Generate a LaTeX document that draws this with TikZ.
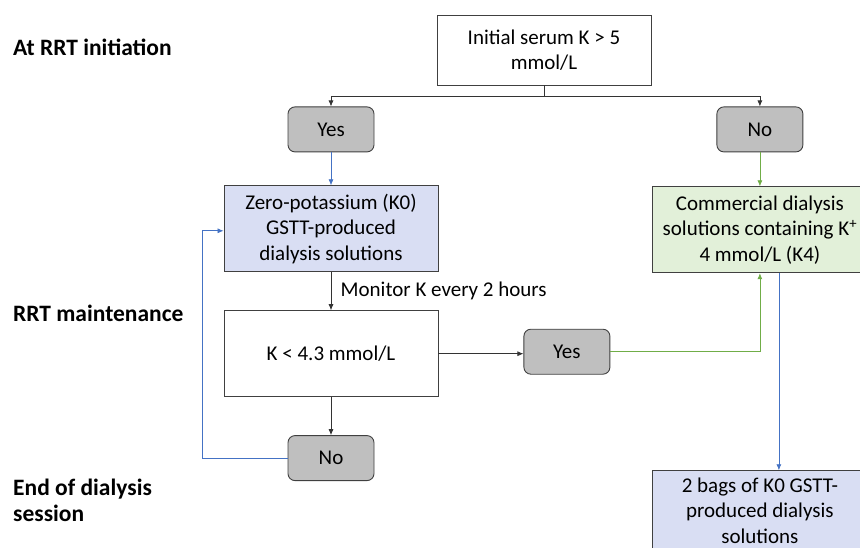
\documentclass[tikz,border=0pt]{standalone}
\usepackage{fontspec}
\setmainfont{Carlito}
\usetikzlibrary{arrows.meta, positioning}
\definecolor{boxline}{HTML}{404040}
\definecolor{answerfill}{HTML}{BFBFBF}
\definecolor{kzerofill}{HTML}{D9DEF3}
\definecolor{kfourfill}{HTML}{E2F0D9}
\definecolor{blueline}{HTML}{4472C4}
\definecolor{greenline}{HTML}{70AD47}

\begin{document}
\begin{tikzpicture}[x=1pt, y=1pt,
        >={Latex[length=6pt,width=5pt]},
        step_box/.style = {
            rectangle,
            draw=boxline,
            line width=0.9pt,
            align = center,
            inner sep=2pt,
            font = \fontsize{21}{25.5}\selectfont,
            minimum width=214pt,
            minimum height=86pt
        },
        answer/.style = {
            rectangle,
            draw=boxline,
            fill=answerfill,
            line width=0.9pt,
            rounded corners=7pt,
            font = \fontsize{21}{25.5}\selectfont,
            minimum width=86pt,
            minimum height=45pt
        },
        phase/.style = {
            anchor=west,
            align=left,
            inner sep=0pt,
            font = \bfseries\fontsize{23.5}{26}\selectfont
        },
        link/.style = {->, line width=0.7pt, draw=black!80}
    ]
    \useasboundingbox (0,0) rectangle (860,-548);
    \clip (0,0) rectangle (860,-548);

    % phase labels on the left
    \node (initiation) [phase] at (13,-47) {At RRT initiation};
    \node (maintenance) [phase] at (13,-313) {RRT maintenance};
    \node (end_session) [phase] at (13,-500) {End of dialysis\\session};

    \node (initial_k) [step_box, minimum height=70pt] at (544,-50)
        {Initial serum K > 5\\mmol/L};
    \node (yes_start) [answer, below=21pt of initial_k, xshift=-213pt] {Yes};
    \node (no_start) [answer, right=342pt of yes_start] {No};

    \node (k0_solution) [step_box, fill=kzerofill, below=33pt of yes_start]
        {Zero-potassium (K0)\\GSTT-produced\\dialysis solutions};
    \node (k4_solution) [step_box, fill=kfourfill, below=34pt of no_start]
        {Commercial dialysis\\solutions containing K\textsuperscript{+}\\4 mmol/L (K4)};

    \node (k_check) [step_box, below=38pt of k0_solution]
        {K < 4.3 mmol/L};
    \node (yes_check) [answer, right=85pt of k_check, yshift=2pt] {Yes};
    \node (no_check) [answer, below=38pt of k_check] {No};

    \node (k0_bags) [step_box, fill=kzerofill, minimum height=80pt, below=197pt of k4_solution]
        {2 bags of K0 GSTT-\\produced dialysis\\solutions};

    \draw[link] (initial_k.south) -- ++(0,-11) -| (yes_start.north);
    \draw[link] (initial_k.south) -- ++(0,-11) -| (no_start.north);
    \draw[link, draw=blueline] (yes_start) -- (k0_solution);
    \draw[link, draw=greenline] (no_start) -- (k4_solution);
    \draw[link] (k0_solution) -- node[right, xshift=6pt, font=\fontsize{21}{25.5}\selectfont] {Monitor K every 2 hours} (k_check);
    \draw[link] (k_check.east) -- (k_check.east -| yes_check.west);
    \draw[link] (k_check) -- (no_check);
    \draw[link, draw=greenline] (yes_check.east) -| (k4_solution.south);
    \draw[link, draw=blueline] (no_check.west) -- ++(-85,0) |- ([yshift=-2pt]k0_solution.west);
    \draw[link, draw=blueline] ([xshift=19pt]k4_solution.south) -- ([xshift=19pt]k4_solution.south |- k0_bags.north);
\end{tikzpicture}
\end{document}
